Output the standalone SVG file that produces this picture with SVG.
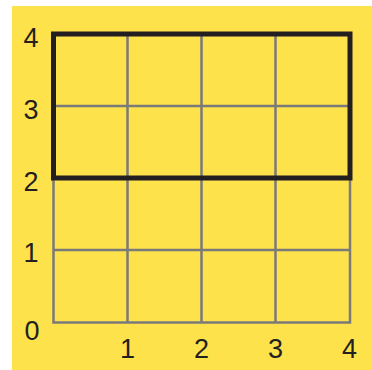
<svg xmlns="http://www.w3.org/2000/svg" width="372" height="370" viewBox="0 0 372 370">
<style>
.grid{stroke:#7a7a7a;stroke-width:2.5;fill:none}
.bold{stroke:#231f20;stroke-width:5;fill:none}
.lbl{font-family:"Liberation Sans",Arial,sans-serif;font-size:27px;fill:#231f20;text-anchor:middle}
</style>
<rect x="0" y="0" width="372" height="370" fill="#ffffff"/>
<rect x="12" y="6" width="360" height="364" fill="#fee24c"/>
<g id="grid">
<path class="grid" d="M53.5 34V322.5H350V34M127.5 34V322.5M201.5 34V322.5M275.5 34V322.5M53.5 106H350M53.5 178H350M53.5 250H350"/>
</g>
<g id="region">
<rect class="bold" x="53.5" y="34" width="296.5" height="144"/>
</g>
<g id="labels">
<text class="lbl" x="31" y="47">4</text>
<text class="lbl" x="31" y="119">3</text>
<text class="lbl" x="31" y="191">2</text>
<text class="lbl" x="31" y="262">1</text>
<text class="lbl" x="32" y="340">0</text>
<text class="lbl" x="127.5" y="358">1</text>
<text class="lbl" x="201.5" y="358">2</text>
<text class="lbl" x="275.5" y="358">3</text>
<text class="lbl" x="349.5" y="358">4</text>
</g>
</svg>
